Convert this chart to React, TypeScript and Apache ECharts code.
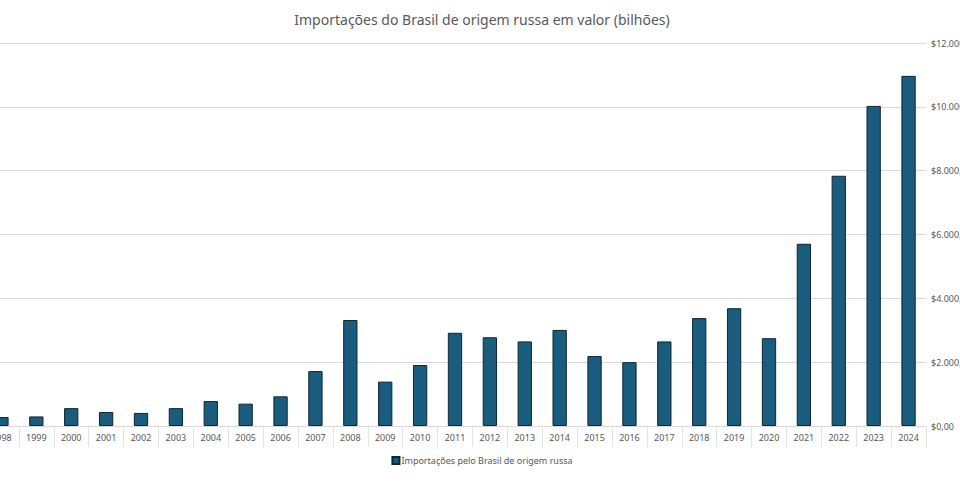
import { useEffect, useRef } from 'react';
import * as echarts from 'echarts';

const years = [
  '1998', '1999', '2000', '2001', '2002', '2003', '2004', '2005', '2006',
  '2007', '2008', '2009', '2010', '2011', '2012', '2013', '2014', '2015',
  '2016', '2017', '2018', '2019', '2020', '2021', '2022', '2023', '2024',
];

// US$ milhões
const importValues = [
  280, 300, 560, 440, 410, 560, 780, 700, 930,
  1720, 3320, 1390, 1910, 2920, 2780, 2650, 3010, 2190,
  2000, 2650, 3380, 3690, 2750, 5710, 7840, 10030, 10970,
];

const seriesName = 'Importações pelo Brasil de origem russa';
const titleText = 'Importações do Brasil de origem russa em valor (bilhões)';

const formatValue = (v: number) =>
  v === 0 ? '$0,00' : '$' + v.toLocaleString('de-DE') + ',00';

export default function App() {
  const chartRef = useRef<HTMLDivElement>(null);

  useEffect(() => {
    if (!chartRef.current) return;

    const chart = echarts.init(chartRef.current, null, { renderer: 'svg' });

    const option = {
      animation: false,
      textStyle: { fontFamily: 'Noto Sans' },
      title: {
        text: titleText,
        left: 'center',
        top: 7,
        textStyle: {
          color: '#595959',
          fontSize: 14,
          fontWeight: 'normal',
        },
      },
      legend: {
        bottom: 12,
        left: 'center',
        icon: 'rect',
        itemWidth: 7,
        itemHeight: 7,
        itemGap: 2,
        textStyle: { color: '#595959', fontSize: 9, padding: [0, 0, 0, -3] },
        data: [seriesName],
      },
      grid: {
        left: 0,
        right: 53,
        top: 43,
        bottom: 56,
      },
      xAxis: {
        type: 'category',
        data: years,
        axisLine: { lineStyle: { color: '#d9d9d9' } },
        axisTick: { show: true, length: 21, lineStyle: { color: '#e4e4e4' } },
        axisLabel: { color: '#595959', fontSize: 9, margin: 7 },
      },
      yAxis: {
        type: 'value',
        position: 'right',
        min: 0,
        max: 12000,
        interval: 2000,
        axisLine: { show: false },
        axisTick: { show: false },
        splitLine: { lineStyle: { color: '#d9d9d9' } },
        axisLabel: {
          color: '#595959',
          fontSize: 9,
          margin: 5,
          formatter: formatValue,
        },
      },
      series: [
        {
          name: seriesName,
          type: 'bar',
          data: importValues,
          barWidth: '41%',
          itemStyle: {
            color: '#195c7d',
            borderColor: '#0d2633',
            borderWidth: 1,
          },
        },
      ],
    };

    chart.setOption(option);

    const handleResize = () => chart.resize();
    window.addEventListener('resize', handleResize);

    return () => {
      window.removeEventListener('resize', handleResize);
      chart.dispose();
    };
  }, []);

  return (
    <div
      ref={chartRef}
      style={{ position: 'fixed', top: 0, left: -16, width: 996, height: 482, background: '#fff' }}
    />
  );
}
